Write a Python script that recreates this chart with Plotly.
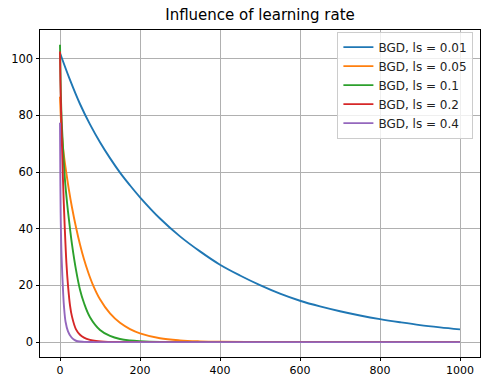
import plotly.graph_objects as go

title = "Influence of learning rate"
labels = ["BGD, ls = 0.01", "BGD, ls = 0.05", "BGD, ls = 0.1", "BGD, ls = 0.2", "BGD, ls = 0.4"]
colors = ["#1f77b4", "#ff7f0e", "#2ca02c", "#d62728", "#9467bd"]

x_ticks = [0, 200, 400, 600, 800, 1000]
y_ticks = [0, 20, 40, 60, 80, 100]

iter_001 = [0, 25, 50, 75, 100, 125, 150, 175, 200, 250, 300, 350, 400, 450, 500, 550, 600, 650, 700, 750, 800, 850, 900, 950, 1000]
loss_001 = [102.0, 92.5, 84.0, 76.8, 70.5, 64.9, 59.8, 55.3, 51.1, 43.6, 37.3, 32.0, 27.3, 23.5, 20.1, 17.1, 14.6, 12.6, 10.9, 9.4, 8.1, 7.0, 6.0, 5.2, 4.5]

iter_005 = [0, 3, 8, 16, 22, 30, 40, 50, 60, 70, 82, 100, 125, 150, 175, 200, 250, 300, 350, 400, 500, 600, 800, 1000]
loss_005 = [86.6, 77, 68, 59.5, 54, 47.5, 40.5, 34.4, 29.2, 24.8, 20.3, 15.1, 10.1, 6.8, 4.6, 3.1, 1.35, 0.6, 0.27, 0.12, 0.03, 0.0, 0.0, 0.0]

iter_01 = [0, 2, 4, 7, 12, 15, 20, 25, 30, 40, 50, 60, 75, 100, 125, 150, 175, 200, 250, 300, 400, 600, 800, 1000]
loss_01 = [104.9, 88, 79, 70, 58, 53, 46, 40, 34.5, 25.5, 18.5, 13.8, 8.8, 4.3, 2.2, 1.1, 0.6, 0.35, 0.1, 0.03, 0.0, 0.0, 0.0, 0.0]

iter_02 = [0, 1, 3, 5, 8, 12, 16, 20, 25, 30, 40, 50, 60, 75, 90, 120, 150, 200, 400, 600, 800, 1000]
loss_02 = [102.5, 92, 80, 69, 55, 40, 28, 20, 13, 9, 4.5, 2.6, 1.6, 0.8, 0.4, 0.1, 0.03, 0.0, 0.0, 0.0, 0.0, 0.0]

iter_04 = [0, 1, 2, 4, 8, 10, 14, 20, 28, 36, 44, 60, 80, 100, 200, 400, 600, 800, 1000]
loss_04 = [77.4, 55, 42, 30, 17, 12.5, 7.1, 3.8, 1.8, 0.8, 0.3, 0.08, 0.02, 0.0, 0.0, 0.0, 0.0, 0.0, 0.0]

series = [(iter_001, loss_001), (iter_005, loss_005), (iter_01, loss_01), (iter_02, loss_02), (iter_04, loss_04)]

fig = go.Figure()
for (xs, ys), name, c in zip(series, labels, colors):
    fig.add_trace(go.Scatter(x=xs, y=ys, mode="lines", name=name,
                             line=dict(color=c, width=1.9, shape="spline", smoothing=1.0)))

font_family = "DejaVu Sans"
fig.update_layout(
    width=481, height=379,
    margin=dict(l=40, r=1, t=30, b=22, autoexpand=False),
    paper_bgcolor="white", plot_bgcolor="white",
    font=dict(family=font_family, size=11.5, color="#000"),
    title=dict(text=title, xref="paper", x=0.5, xanchor="center", y=0.962, yanchor="middle",
               automargin=False,
               font=dict(family=font_family, size=15, color="#000")),
    showlegend=True,
    legend=dict(x=0.985, xanchor="right", y=0.995, yanchor="top",
                bgcolor="rgba(255,255,255,0.8)", bordercolor="#cccccc", borderwidth=1,
                font=dict(family=font_family, size=12, color="#222")),
)
fig.update_xaxes(range=[-50, 1050], tickvals=x_ticks, ticktext=[str(v) for v in x_ticks],
                 automargin=False, tickfont=dict(size=11),
                 showline=True, mirror=True, linecolor="#000", linewidth=1,
                 ticks="outside", ticklen=3, tickcolor="#000", tickwidth=1,
                 showgrid=True, gridcolor="#b0b0b0", gridwidth=0.8, zeroline=False)
fig.update_yaxes(range=[-5.25, 110.1], tickvals=y_ticks, ticktext=[str(v) for v in y_ticks],
                 automargin=False,
                 showline=True, mirror=True, linecolor="#000", linewidth=1,
                 ticks="outside", ticklen=3.5, tickcolor="#000", tickwidth=1,
                 showgrid=True, gridcolor="#b0b0b0", gridwidth=0.8, zeroline=False)

fig.write_html("out.html", config={"displayModeBar": False},
               post_script="document.body.style.margin='0';document.body.style.padding='0';document.body.style.overflow='hidden';")
